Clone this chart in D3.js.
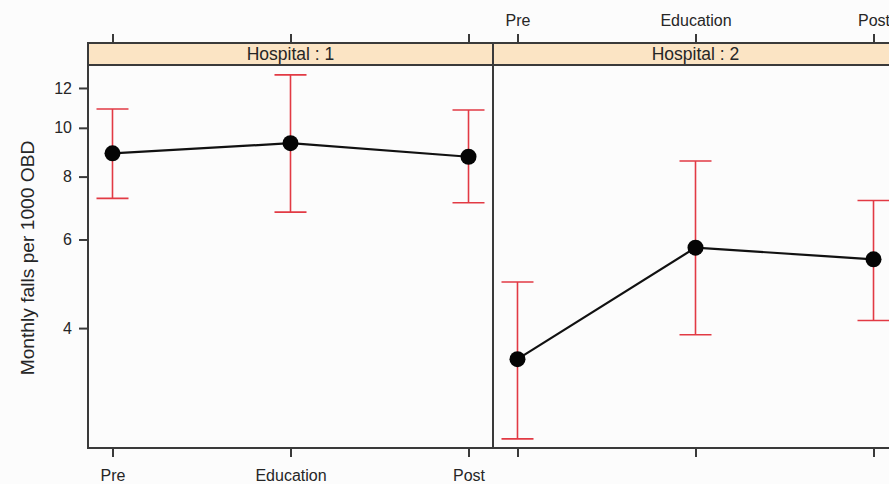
<!DOCTYPE html>
<html>
<head>
<meta charset="utf-8">
<script src="https://cdn.jsdelivr.net/npm/d3@7"></script>
<style>
  html, body { margin: 0; padding: 0; background: #fcfcfc; }
  svg { display: block; font-family: "Liberation Sans", Arial, sans-serif; }
</style>
</head>
<body>
<div id="chart"></div>
<script>
// phases on the x axis
const phases = ['Pre', 'Education', 'Post'];
const hospitals = ['Hospital : 1', 'Hospital : 2'];

// estimated means and interval bounds, per hospital
const mean1 = [8.90, 9.32, 8.76];
const lower1 = [7.24, 6.80, 7.10];
const upper1 = [10.90, 12.74, 10.85];

const mean2 = [3.47, 5.78, 5.48];
const lower2 = [2.41, 3.88, 4.14];
const upper2 = [4.94, 8.59, 7.17];

const yTicks = [4, 6, 8, 10, 12];
const yLabel = 'Monthly falls per 1000 OBD';

const width = 889, height = 484;
const margin = { top: 65, bottom: 448, left: 88 };
const panelW = 405;
const stripH = 22;

const svg = d3.select('#chart').append('svg')
  .attr('width', width)
  .attr('height', height);

svg.append('rect').attr('width', width).attr('height', height).attr('fill', '#fcfcfc');

const y = d3.scaleLog()
  .domain([2.311, 13.33])
  .range([margin.bottom, margin.top]);

const panels = [
  { name: hospitals[0], mean: mean1, lower: lower1, upper: upper1 },
  { name: hospitals[1], mean: mean2, lower: lower2, upper: upper2 }
];

const axisColor = '#3a3a3a';
const textColor = '#262626';

panels.forEach((p, i) => {
  const x0 = margin.left + i * panelW;
  const x = d3.scalePoint()
    .domain(phases)
    .range([x0, x0 + panelW])
    .padding(0.1376);

  const g = svg.append('g');

  // strip
  g.append('rect')
    .attr('x', x0).attr('y', margin.top - stripH)
    .attr('width', panelW).attr('height', stripH)
    .attr('fill', '#fbe4c4')
    .attr('stroke', axisColor).attr('stroke-width', 2);
  g.append('text')
    .attr('x', x0 + panelW / 2).attr('y', margin.top - 5)
    .attr('text-anchor', 'middle')
    .attr('font-size', 17.5)
    .attr('fill', textColor)
    .text(p.name);

  // panel box
  g.append('rect')
    .attr('x', x0).attr('y', margin.top)
    .attr('width', panelW).attr('height', margin.bottom - margin.top)
    .attr('fill', 'none')
    .attr('stroke', axisColor).attr('stroke-width', 2);

  // bottom axis
  const bottom = g.append('g')
    .attr('transform', `translate(0,${margin.bottom})`)
    .call(d3.axisBottom(x).tickSize(9).tickPadding(13).tickFormat(i === 0 ? d => d : ''));
  // top axis (ticks above strip)
  const top = g.append('g')
    .attr('transform', `translate(0,${margin.top - stripH})`)
    .call(d3.axisTop(x).tickSize(9).tickPadding(8).tickFormat(i === 1 ? d => d : ''));
  [bottom, top].forEach(a => {
    a.select('.domain').remove();
    a.selectAll('line').attr('stroke', axisColor).attr('stroke-width', 2);
    a.selectAll('text').attr('font-size', 16).attr('fill', textColor).attr('font-family', null);
  });

  // error bars
  const bars = g.append('g').attr('stroke', '#e23a44').attr('stroke-width', 1.6).attr('fill', 'none');
  phases.forEach((ph, k) => {
    const cx = x(ph);
    bars.append('line')
      .attr('x1', cx).attr('x2', cx)
      .attr('y1', y(p.lower[k])).attr('y2', y(p.upper[k]));
    [p.lower[k], p.upper[k]].forEach(v => {
      bars.append('line')
        .attr('x1', cx - 16).attr('x2', cx + 16)
        .attr('y1', y(v)).attr('y2', y(v));
    });
  });

  // mean line and points
  g.append('path')
    .datum(p.mean)
    .attr('fill', 'none')
    .attr('stroke', '#111')
    .attr('stroke-width', 2.2)
    .attr('d', d3.line().x((d, k) => x(phases[k])).y(d => y(d)));

  g.selectAll('circle.pt')
    .data(p.mean)
    .enter().append('circle')
    .attr('class', 'pt')
    .attr('cx', (d, k) => x(phases[k]))
    .attr('cy', d => y(d))
    .attr('r', 8)
    .attr('fill', '#050505');
});

// y axis
const yAxis = svg.append('g')
  .attr('transform', `translate(${margin.left},0)`)
  .call(d3.axisLeft(y).tickValues(yTicks).tickFormat(d3.format('d')).tickSize(9).tickPadding(7));
yAxis.select('.domain').remove();
yAxis.selectAll('line').attr('stroke', axisColor).attr('stroke-width', 2);
yAxis.selectAll('text').attr('font-size', 16).attr('fill', textColor).attr('font-family', null);

svg.append('text')
  .attr('transform', `translate(34,258) rotate(-90)`)
  .attr('text-anchor', 'middle')
  .attr('font-size', 19.2)
  .attr('fill', textColor)
  .text(yLabel);
</script>
</body>
</html>
